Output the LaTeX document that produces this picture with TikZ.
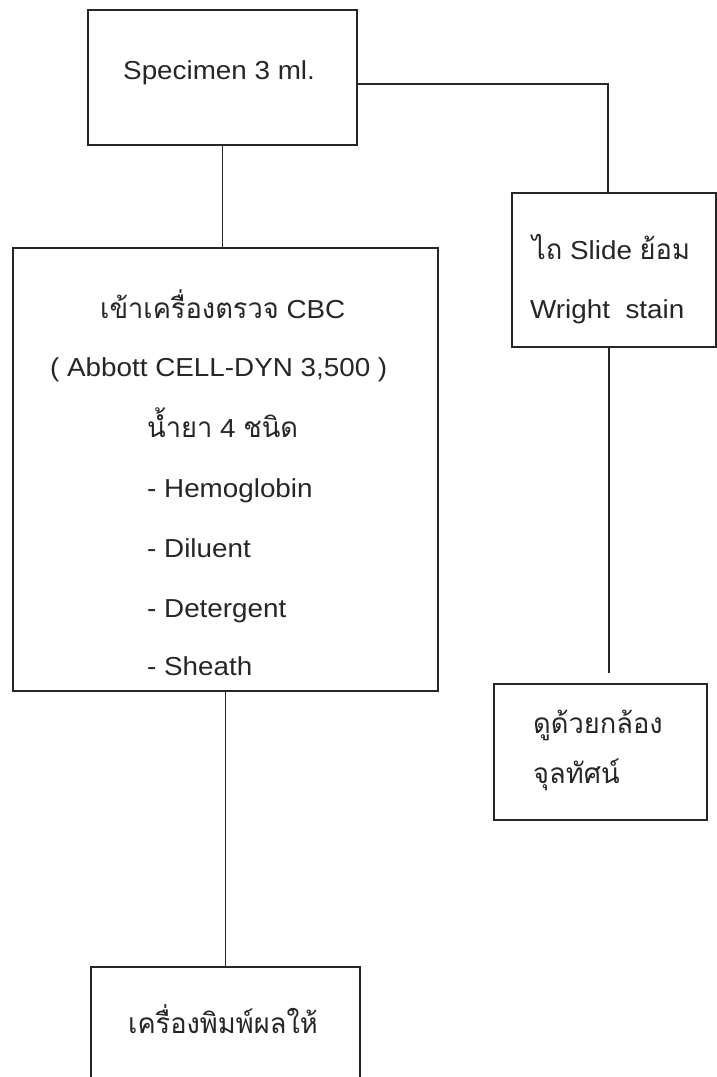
\documentclass[tikz,border=0pt]{standalone}
\usepackage{fontspec}
\setmainfont[FakeStretch=1.07]{Liberation Sans}
\newfontfamily\thai[Script=Thai, Scale=1.08, FakeStretch=0.97]{Loma}
\begin{document}
\begin{tikzpicture}[x=1pt,y=-1pt,
  box/.style={draw=black!85, line width=1.2pt, rectangle, inner sep=0pt},
  txt/.style={anchor=base west, inner sep=0pt, text=black!85, font=\fontsize{26}{32}\selectfont},
  conn/.style={draw=black!85, line width=1.2pt}]
\useasboundingbox (0,0) rectangle (717,1077);
\clip (0,0) rectangle (717,1077);
\fill[white] (0,0) rectangle (717,1077);
% boxes
\node[box, minimum width=269pt, minimum height=135pt] (spec) at (222.5,77.5) {};
\node[box, minimum width=425pt, minimum height=443pt] (cbc) at (225.5,469.5) {};
\node[box, minimum width=204pt, minimum height=154pt] (slide) at (614,270) {};
\node[box, minimum width=213pt, minimum height=136pt] (micro) at (600.5,752) {};
\node[box, minimum width=269pt, minimum height=133pt] (printer) at (225.5,1033.5) {};
% texts
\node[txt] (t1) at (123,79) {Specimen 3 ml.};
\node[txt] (t2) at (100,318) {{\thai เข้าเครื่องตรวจ} CBC};
\node[txt] (t3) at (50,376) {( Abbott CELL-DYN 3,500 )};
\node[txt] (t4) at (147,437) {{\thai น้ำยา} 4 {\thai ชนิด}};
\node[txt] (t5) at (147,497) {- Hemoglobin};
\node[txt] (t6) at (147,557) {- Diluent};
\node[txt] (t7) at (147,617) {- Detergent};
\node[txt] (t8) at (147,675) {- Sheath};
\node[txt] (t9) at (532,259) {{\thai ไถ} Slide {\thai ย้อม}};
\node[txt] (t10) at (530,318) {Wright\ \ stain};
\node[txt] (t11) at (533,733) {\thai ดูด้วยกล้อง};
\node[txt] (t12) at (533,783) {\thai จุลทัศน์};
\node[txt] (t13) at (128,1033) {\thai เครื่องพิมพ์ผลให้};
% connectors
\coordinate (mend) at (609,673);
\draw[conn] (spec.south) -- (spec.south |- cbc.north);
\draw[conn] ([yshift=-6.5pt]spec.east) -| ([xshift=-6pt]slide.north);
\draw[conn] ([xshift=-5pt]slide.south) -- (mend);
\draw[conn] (cbc.south) -- (printer.north);
\end{tikzpicture}
\end{document}
